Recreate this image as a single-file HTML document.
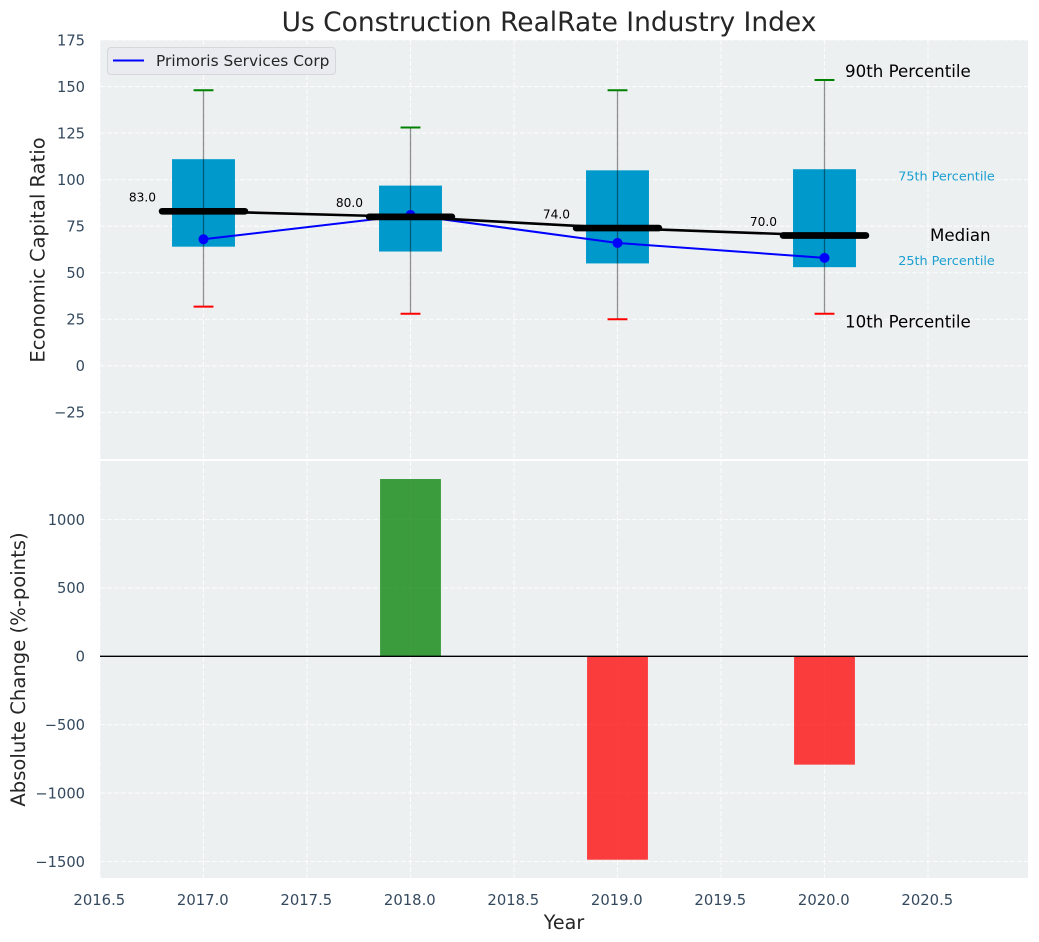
<!DOCTYPE html>
<html>
<head>
<meta charset="utf-8">
<title>Us Construction RealRate Industry Index</title>
<style>
html,body{margin:0;padding:0;background:#fff;width:1039px;height:942px;overflow:hidden}
svg{display:block}
text{font-family:"DejaVu Sans","Liberation Sans",sans-serif}
</style>
</head>
<body>
<svg id="chart" xmlns="http://www.w3.org/2000/svg" width="1039" height="942" viewBox="0 0 1039 942">
  <rect x="0" y="0" width="1039" height="942" fill="#ffffff"/>
  <rect x="100" y="40" width="928" height="419" fill="#ecf0f1"/>
  <rect x="100" y="461" width="928" height="417" fill="#ecf0f1"/>
  <g id="grid"></g>
  <g id="bars"></g>
  <g id="boxes"></g>
  <g id="lines"></g>
  <g id="labels"></g>
  <text x="549" y="31" font-size="26.47" fill="#262626" text-anchor="middle">Us Construction RealRate Industry Index</text>
  <text transform="translate(44.5,250) rotate(-90)" font-size="19.5" fill="#262626" text-anchor="middle">Economic Capital Ratio</text>
  <text transform="translate(25,669.5) rotate(-90)" font-size="19.6" fill="#262626" text-anchor="middle">Absolute Change (%-points)</text>
  <text x="564" y="929" font-size="19.1" fill="#262626" text-anchor="middle">Year</text>
  <g>
    <rect x="107.5" y="47.5" width="228" height="27" rx="3.5" fill="#e9ebf0" stroke="#d5d7da" stroke-width="1"/>
    <line x1="113" y1="60.5" x2="144" y2="60.5" stroke="#0000ff" stroke-width="2"/>
    <text x="156" y="66" font-size="15.38" fill="#262626">Primoris Services Corp</text>
  </g>
</svg>
<script>
// Chart data
const years = [2017, 2018, 2019, 2020];
const p90 = [148, 128, 148, 153.5];
const p75 = [111, 96.8, 105, 105.6];
const medians = [83, 80, 74, 70];
const p25 = [64, 61.4, 55, 53];
const p10 = [31.8, 28, 25, 28];
const company = [68, 81, 66, 58];
const changes = [0, 1296, -1487, -792];
const xTicks = [2016.5, 2017, 2017.5, 2018, 2018.5, 2019, 2019.5, 2020, 2020.5];
const xTickLabels = ['2016.5', '2017.0', '2017.5', '2018.0', '2018.5', '2019.0', '2019.5', '2020.0', '2020.5'];
const topTicks = [175, 150, 125, 100, 75, 50, 25, 0, -25];
const topTickLabels = ['175', '150', '125', '100', '75', '50', '25', '0', '\u221225'];
const bottomTicks = [1000, 500, 0, -500, -1000, -1500];
const bottomTickLabels = ['1000', '500', '0', '\u2212500', '\u22121000', '\u22121500'];

// Axis functions
function xScale(v) { return 100 + (v - 2016.5) * 207; }
function yTop(v) { return 40 + (175 - v) * 1.862; }
function yBottom(v) { return 656.3 - v * 0.1368; }

const NS = 'http://www.w3.org/2000/svg';
function mk(parent, tag, attrs, txt) {
  const el = document.createElementNS(NS, tag);
  for (const k in attrs) el.setAttribute(k, attrs[k]);
  if (txt !== undefined) el.textContent = txt;
  parent.appendChild(el);
  return el;
}
const gGrid = document.getElementById('grid');
const gBars = document.getElementById('bars');
const gBoxes = document.getElementById('boxes');
const gLines = document.getElementById('lines');
const gLabels = document.getElementById('labels');
const gridStyle = { stroke: '#ffffff', 'stroke-width': 1.1, 'stroke-dasharray': '4.9 2.1', opacity: 0.8 };
const tickColor = '#34495e';

xTicks.forEach(function (t, i) {
  const x = xScale(t);
  let el = mk(gGrid, 'line', Object.assign({ x1: x, x2: x, y1: 40, y2: 459 }, gridStyle));
  
  
  el = mk(gGrid, 'line', Object.assign({ x1: x, x2: x, y1: 461, y2: 878 }, gridStyle));
  
  
  const lab = mk(gLabels, 'text', { x: x - 0.7, y: 905, 'font-size': 14.8, fill: tickColor, 'text-anchor': 'middle' }, xTickLabels[i]);
  
  
});

topTicks.forEach(function (t, i) {
  const y = yTop(t);
  const ln = mk(gGrid, 'line', Object.assign({ x1: 100, x2: 1028, y1: y, y2: y }, gridStyle));
  
  
  const lab = mk(gLabels, 'text', { x: 85, y: y + 5.3, 'font-size': 14.67, fill: tickColor, 'text-anchor': 'end' }, topTickLabels[i]);
  
  
});

bottomTicks.forEach(function (t, i) {
  const y = yBottom(t);
  const ln = mk(gGrid, 'line', Object.assign({ x1: 100, x2: 1028, y1: y, y2: y }, gridStyle));
  
  
  const lab = mk(gLabels, 'text', { x: 85, y: y + 5.3, 'font-size': 14.67, fill: tickColor, 'text-anchor': 'end' }, bottomTickLabels[i]);
  
  
});

// Change bars
const barHalf = 0.147;
years.forEach(function (yr, i) {
  const v = changes[i];
  if (v === 0) return;
  const y0 = yBottom(0), y1 = yBottom(v);
  const b = mk(gBars, 'rect', {
    x: xScale(yr - barHalf), width: xScale(yr + barHalf) - xScale(yr - barHalf),
    y: Math.min(y0, y1), height: Math.abs(y1 - y0),
    fill: v > 0 ? '#008000' : '#ff0000', 'fill-opacity': 0.75
  });
  
  
});
const zero = mk(gBars, 'line', { x1: 100, x2: 1028, y1: yBottom(0), y2: yBottom(0), stroke: '#000000', 'stroke-width': 1.3 });



// Boxes, whiskers, caps
const boxHalf = 0.152;
const capHalf = 0.048;
years.forEach(function (yr, i) {
  const x = xScale(yr);
  const box = mk(gBoxes, 'rect', {
    x: xScale(yr - boxHalf), width: xScale(yr + boxHalf) - xScale(yr - boxHalf),
    y: yTop(p75[i]), height: yTop(p25[i]) - yTop(p75[i]), fill: '#0099cc'
  });
  
  
  const wh = mk(gBoxes, 'line', { x1: x, x2: x, y1: yTop(p90[i]), y2: yTop(p10[i]), stroke: '#000000', 'stroke-opacity': 0.42, 'stroke-width': 1.3 });
  
  
  const capHigh = mk(gBoxes, 'line', { x1: xScale(yr - capHalf), x2: xScale(yr + capHalf), y1: yTop(p90[i]), y2: yTop(p90[i]), stroke: '#008000', 'stroke-width': 2 });
  
  
  const capLow = mk(gBoxes, 'line', { x1: xScale(yr - capHalf), x2: xScale(yr + capHalf), y1: yTop(p10[i]), y2: yTop(p10[i]), stroke: '#ff0000', 'stroke-width': 2 });
  
  
});

// Company line
const companyLine = mk(gLines, 'polyline', {
  points: years.map(function (yr, i) { return xScale(yr) + ',' + yTop(company[i]); }).join(' '),
  fill: 'none', stroke: '#0000ff', 'stroke-width': 2
});


years.forEach(function (yr, i) {
  const dot = mk(gLines, 'circle', { cx: xScale(yr), cy: yTop(company[i]), r: 5, fill: '#0000ff' });
  
  
});

// Median line and thick median bars
const medianLine = mk(gLines, 'polyline', {
  points: years.map(function (yr, i) { return xScale(yr) + ',' + yTop(medians[i]); }).join(' '),
  fill: 'none', stroke: '#000000', 'stroke-width': 2.6
});


years.forEach(function (yr, i) {
  const y = yTop(medians[i]);
  const m = mk(gLines, 'line', { x1: xScale(yr - 0.2), x2: xScale(yr + 0.2), y1: y, y2: y, stroke: '#000000', 'stroke-width': 6.7, 'stroke-linecap': 'round' });
  
  
  const t = mk(gLabels, 'text', { x: xScale(yr) - 47.5, y: y - 9.7, 'font-size': 12.2, fill: '#000000', 'text-anchor': 'end' }, medians[i].toFixed(1));
  
  
});

// Percentile annotations anchored on the last box
const last = years.length - 1;
const xLast = xScale(years[last]);
const a90 = mk(gLabels, 'text', { x: xLast + 20.5, y: yTop(p90[last]) - 3, 'font-size': 16.67, fill: '#000000' }, '90th Percentile');


const a10 = mk(gLabels, 'text', { x: xLast + 20.5, y: yTop(p10[last]) + 14, 'font-size': 16.67, fill: '#000000' }, '10th Percentile');


const aMed = mk(gLabels, 'text', { x: xLast + 105.5, y: yTop(medians[last]) + 5.5, 'font-size': 16.67, fill: '#000000' }, 'Median');


const a75 = mk(gLabels, 'text', { x: xLast + 73.7, y: yTop(p75[last]) + 11.5, 'font-size': 12.8, fill: '#1a9fd0' }, '75th Percentile');


const a25 = mk(gLabels, 'text', { x: xLast + 73.7, y: yTop(p25[last]) - 2, 'font-size': 12.8, fill: '#1a9fd0' }, '25th Percentile');


</script>
</body>
</html>
